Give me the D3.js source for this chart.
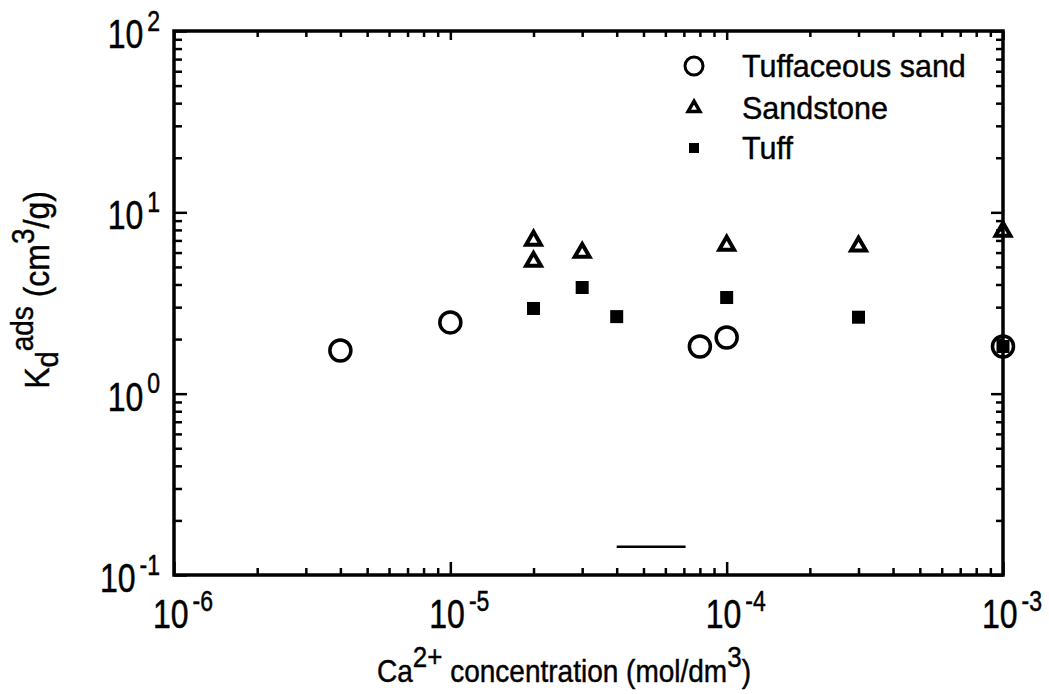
<!DOCTYPE html>
<html>
<head>
<meta charset="utf-8">
<script src="https://cdn.jsdelivr.net/npm/d3@7"></script>
<style>
  body { margin: 0; background: #fff; }
  text { font-family: "Liberation Sans", Arial, sans-serif; fill: #000; stroke: #000; stroke-width: 0.4px; }
</style>
</head>
<body>
<script>
// Ca2+ concentration (mol/dm3) and Kd (cm3/g)
const tuffSandX = [4e-6, 1e-5, 8e-5, 1e-4, 1e-3];
const tuffSandY = [1.73, 2.47, 1.82, 2.04, 1.82];

const sandstoneX = [2e-5, 2e-5, 3e-5, 1e-4, 3e-4, 1e-3];
const sandstoneY = [7.0, 5.36, 6.0, 6.57, 6.5, 7.85];

const tuffX = [2e-5, 3e-5, 4e-5, 1e-4, 3e-4, 1e-3];
const tuffY = [2.95, 3.85, 2.66, 3.39, 2.64, 1.82];

// stray dash near the bottom of the frame
const dashX = [4.0e-5, 7.1e-5];
const dashY = [0.143, 0.143];

const xTickExp = ['-6', '-5', '-4', '-3'];
const yTickExp = ['-1', '0', '1', '2'];
const legendNames = ['Tuffaceous sand', 'Sandstone', 'Tuff'];

const width = 1049, height = 694;
const mLeft = 174, mRight = 1003, mTop = 31, mBottom = 575;

const svg = d3.select('body')
  .append('svg')
  .attr('width', width)
  .attr('height', height);

const x = d3.scaleLog()
  .domain([1e-6, 1e-3])
  .range([mLeft, mRight]);

const y = d3.scaleLog()
  .domain([0.1, 100])
  .range([mBottom, mTop]);

const xMajor = xTickExp.map((e) => Math.pow(10, +e));
const yMajor = yTickExp.map((e) => Math.pow(10, +e));
const isMajor = (v) => Math.abs(Math.log10(v) - Math.round(Math.log10(v))) < 1e-6;
const xMinor = x.ticks().filter((v) => !isMajor(v));
const yMinor = y.ticks().filter((v) => !isMajor(v));

function axis(gen, scale, values, size, tx, ty) {
  svg.append('g')
    .attr('transform', 'translate(' + tx + ',' + ty + ')')
    .call(gen(scale).tickValues(values).tickSizeInner(size).tickSizeOuter(0).tickFormat(''))
    .call((g) => g.select('.domain').remove())
    .call((g) => g.selectAll('line').attr('stroke', '#000').attr('stroke-width', 2.5));
}

// ticks point inward on all four sides
axis(d3.axisBottom, x, xMajor, -13, 0, mBottom);
axis(d3.axisBottom, x, xMinor, -7, 0, mBottom);
axis(d3.axisTop, x, xMajor, -9, 0, mTop);
axis(d3.axisTop, x, xMinor, -6, 0, mTop);
axis(d3.axisLeft, y, yMajor, -13, mLeft, 0);
axis(d3.axisLeft, y, yMinor, -8, mLeft, 0);
axis(d3.axisRight, y, yMajor, -12, mRight, 0);
axis(d3.axisRight, y, yMinor, -7, mRight, 0);

svg.append('rect')
  .attr('x', mLeft)
  .attr('y', mTop)
  .attr('width', mRight - mLeft)
  .attr('height', mBottom - mTop)
  .attr('fill', 'none')
  .attr('stroke', '#000')
  .attr('stroke-width', 3.5);

// tick labels: 10 with a raised exponent
function powLabel(g, exp) {
  const t = g.append('text').style('font-size', '32px');
  t.append('tspan').text('10');
  t.append('tspan').attr('dy', -14).attr('dx', 4).style('font-size', '23px').text(exp);
  return t;
}

xTickExp.forEach((e, i) => {
  const g = svg.append('g')
    .attr('transform', 'translate(' + (x(xMajor[i]) + 9) + ',' + 628 + ') scale(1,1.25)');
  powLabel(g, e).attr('text-anchor', 'middle');
});

yTickExp.forEach((e, i) => {
  const g = svg.append('g')
    .attr('transform', 'translate(' + 160 + ',' + (y(yMajor[i]) + 17) + ') scale(1,1.25)');
  powLabel(g, e).attr('text-anchor', 'end');
});

// axis titles
const xt = svg.append('text')
  .attr('transform', 'translate(564,682) scale(1,1.14)')
  .attr('text-anchor', 'middle')
  .style('font-size', '28px');
xt.append('tspan').text('Ca');
xt.append('tspan').attr('dy', -13).style('font-size', '26px').text('2+');
xt.append('tspan').attr('dy', 13).text(' concentration (mol/dm');
xt.append('tspan').attr('dy', -13).style('font-size', '26px').text('3');
xt.append('tspan').attr('dy', 13).text(')');

const yt = svg.append('text')
  .attr('transform', 'translate(49,290) rotate(-90) scale(1,1.1)')
  .attr('text-anchor', 'middle')
  .style('font-size', '32px');
yt.append('tspan').text('K');
yt.append('tspan').attr('dy', 8).style('font-size', '29px').text('d');
yt.append('tspan').attr('dy', -23).style('font-size', '28px').text('ads');
yt.append('tspan').attr('dy', 15).text(' (cm');
yt.append('tspan').attr('dy', -14).style('font-size', '28px').text('3');
yt.append('tspan').attr('dy', 14).text('/g)');

// data marks
const tri = d3.symbol(d3.symbolTriangle);

svg.append('g')
  .selectAll('circle')
  .data(d3.zip(tuffSandX, tuffSandY))
  .join('circle')
  .attr('cx', (d) => x(d[0]))
  .attr('cy', (d) => y(d[1]))
  .attr('r', 10.5)
  .attr('fill', 'none')
  .attr('stroke', '#000')
  .attr('stroke-width', 3.5);

svg.append('g')
  .selectAll('path')
  .data(d3.zip(sandstoneX, sandstoneY))
  .join('path')
  .attr('d', tri.size(95)())
  .attr('transform', (d) => 'translate(' + x(d[0]) + ',' + y(d[1]) + ')')
  .attr('fill', 'none')
  .attr('stroke', '#000')
  .attr('stroke-width', 4);

svg.append('g')
  .selectAll('rect')
  .data(d3.zip(tuffX, tuffY))
  .join('rect')
  .attr('x', (d) => x(d[0]) - 6.5)
  .attr('y', (d) => y(d[1]) - 6.5)
  .attr('width', 13)
  .attr('height', 13)
  .attr('fill', '#000');

svg.append('line')
  .attr('x1', x(dashX[0]))
  .attr('x2', x(dashX[1]))
  .attr('y1', y(dashY[0]))
  .attr('y2', y(dashY[1]))
  .attr('stroke', '#000')
  .attr('stroke-width', 2.5);

// legend
const legend = svg.append('g');
const rowY = [66, 108, 148];
const symX = 694;

legend.append('circle')
  .attr('cx', symX).attr('cy', rowY[0]).attr('r', 9)
  .attr('fill', 'none').attr('stroke', '#000').attr('stroke-width', 3);
legend.append('path')
  .attr('d', tri.size(60)())
  .attr('transform', 'translate(' + symX + ',' + rowY[1] + ')')
  .attr('fill', 'none').attr('stroke', '#000').attr('stroke-width', 3.5);
legend.append('rect')
  .attr('x', symX - 5).attr('y', rowY[2] - 5).attr('width', 10).attr('height', 10)
  .attr('fill', '#000');

legendNames.forEach((name, i) => {
  legend.append('text')
    .attr('x', 742)
    .attr('y', rowY[i] + 11)
    .style('font-size', '30.5px')
    .text(name);
});
</script>
</body>
</html>
